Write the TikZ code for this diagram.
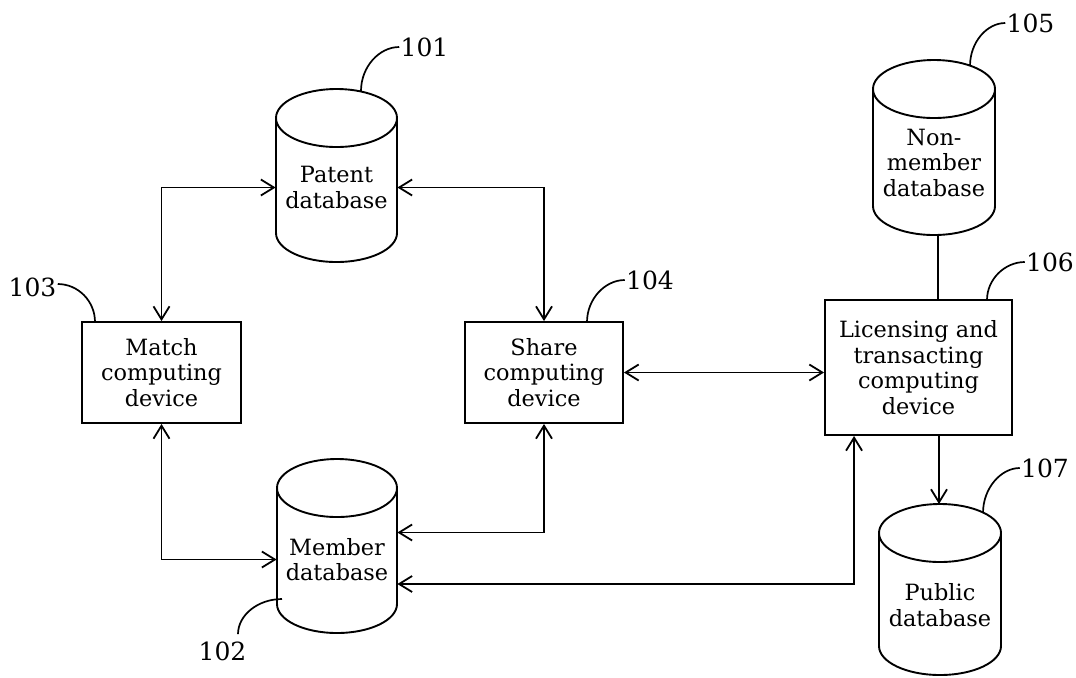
\documentclass[tikz,border=0pt]{standalone}
\usepackage{fontspec}
\setmainfont{DejaVu Serif}
\usetikzlibrary{arrows.meta,calc}
\newcommand\dbcyl[4]{%
  \draw[thickline] (#1-#4,#2+29) -- (#1-#4,#3-29)
    arc[start angle=180,end angle=0,x radius=#4,y radius=29]
    -- (#1+#4,#2+29)
    arc[start angle=0,end angle=-180,x radius=#4,y radius=29] -- cycle;
  \draw[thickline] (#1-#4,#2+29) arc[start angle=180,end angle=0,x radius=#4,y radius=29];
}
\begin{document}
\begin{tikzpicture}[x=0.5pt,y=-0.5pt,
  thickline/.style={line width=0.95pt},
  conn/.style={line width=0.9pt},
  >={Straight Barb[length=6.5pt,width=8pt]},
  txt/.style={font=\fontsize{11.2}{12.75}\selectfont, align=center},
  boxnode/.style={txt, draw, thickline, inner sep=0pt},
  dbtext/.style={txt, inner sep=0pt},
  lbl/.style={font=\fontsize{12.5}{14}\selectfont, inner sep=0.5pt},
  leader/.style={line width=0.85pt}]
\useasboundingbox (0,0) rectangle (1076,677);

% cylinders
\dbcyl{336.5}{89}{262}{60.5}
\dbcyl{337}{459}{633}{60}
\dbcyl{934}{60}{235}{61}
\dbcyl{940}{504}{675}{61}

\node[dbtext, minimum width=60.5pt] (patent) at (336.5,187.5) {Patent\\database};
\node[dbtext, minimum width=60pt] (member) at (337,559.5) {Member\\database};
\node[dbtext, minimum width=61pt] (nonmember) at (934,162.5) {Non-\\member\\database};
\node[dbtext, minimum width=61pt] (public) at (940,605) {Public\\database};

% boxes
\node[boxnode, minimum width=79.5pt, minimum height=50.5pt] (match) at (161.5,372.5) {Match\\computing\\device};
\node[boxnode, minimum width=79pt, minimum height=50.5pt] (share) at (544,372.5) {Share\\computing\\device};
\node[boxnode, minimum width=93.5pt, minimum height=67.5pt] (lic) at (918.5,367.5) {Licensing and\\transacting\\computing\\device};

% connectors
\draw[conn,<->] (match.north) |- (patent.west);
\draw[conn,<->] (patent.east) -| (share.north);
\draw[conn,<->] (match.south) |- (member.west);
\draw[conn,<->] (share.south) |- ($(member.east)+(0,-27)$);
\draw[conn,<->] (share.east) -- (share.east -| lic.west);
\draw[conn,<->] ($(member.east)+(0,24.5)$) -| ($(lic.south west)+(30,0)$);
\coordinate (nmb) at (938,235);
\draw[conn] (nmb) -- (nmb |- lic.north);
\coordinate (pubtop) at (939,504);
\draw[conn,->] (pubtop |- lic.south) -- (pubtop);

% reference labels
\node[lbl] (l101) at (424.5,47) {101};
\node[lbl] (l102) at (222.5,651) {102};
\node[lbl] (l103) at (32.5,287) {103};
\node[lbl] (l104) at (650,280) {104};
\node[lbl] (l105) at (1030.5,23) {105};
\node[lbl] (l106) at (1050,262) {106};
\node[lbl] (l107) at (1045,468) {107};

\draw[leader] (l101.west) .. controls (379,47) and (361,67) .. (361,91);
\draw[leader] ($(l102.north)+(15.5,-6)$) .. controls (238,615) and (258,599) .. (282,599);
\draw[leader] ($(l103.east)+(0,-3)$) .. controls (78,284) and (95,301) .. (95,322);
\draw[leader] (l104.west) .. controls (605,280) and (587,299) .. (587,322);
\draw[leader] (l105.west) .. controls (987,23) and (970,42) .. (970,66);
\draw[leader] (l106.west) .. controls (1005,262) and (987,279) .. (987,300);
\draw[leader] (l107.west) .. controls (1001,468) and (983,488) .. (983,513);
\end{tikzpicture}
\end{document}
